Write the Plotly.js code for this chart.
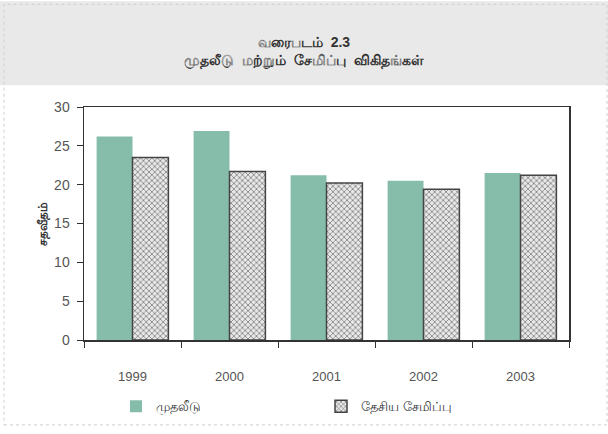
<!DOCTYPE html>
<html><head><meta charset="utf-8">
<script src="https://cdn.plot.ly/plotly-3.0.1.min.js"></script>
<style>body{margin:0;background:#fff}#c{width:608px;height:434px}</style>
</head><body><div id="c"></div>
<script>
const years = ['1999','2000','2001','2002','2003'];
const investment = [26.2, 26.9, 21.2, 20.5, 21.5];
const savings = [23.5, 21.7, 20.2, 19.4, 21.2];
const seriesNames = ['முதலீடு', 'தேசிய சேமிப்பு'];
const yTicks = [0, 5, 10, 15, 20, 25, 30];

const font = "'Liberation Sans', Arial, 'Noto Sans', sans-serif";
const data = [
  {type:'bar', x:years, y:investment, name:seriesNames[0],
   marker:{color:'#86bcaa', line:{width:0}}},
  {type:'bar', x:years, y:savings, name:seriesNames[1],
   marker:{color:'#e4e4e4', line:{color:'#444', width:1.5},
     pattern:{shape:'x', fgcolor:'#666', bgcolor:'#e8e8e8', size:4, solidity:0.3}}}
];
const pw = 485, ph = 236;
const layout = {
  width:608, height:434,
  margin:{l:84, r:39, t:107, b:91},
  paper_bgcolor:'#ffffff', plot_bgcolor:'#ffffff',
  font:{family:font, color:'#444', size:12},
  barmode:'group', bargap:0.26, bargroupgap:0,
  title:{text:'<b>வரைபடம்  2.3</b><br><b>முதலீடு  மற்றும்  சேமிப்பு  விகிதங்கள்</b>',
    font:{size:14, color:'#333'}, x:0.5, xanchor:'center', y:0.892, yanchor:'middle'},
  xaxis:{type:'category', showline:true, linecolor:'#333', linewidth:1.5, mirror:true,
    ticks:'outside', tickson:'boundaries', ticklen:6, tickcolor:'#333',
    ticklabelstandoff:24, tickfont:{size:13, color:'#555'}, showgrid:false},
  yaxis:{range:[0,30], tickvals:yTicks, showline:true, linecolor:'#333', linewidth:1.5, mirror:true,
    ticks:'outside', ticklen:6, tickcolor:'#333', showgrid:false, zeroline:false,
    ticklabelstandoff:4, tickfont:{size:14, color:'#555'},
    title:{text:'<b>சதவீதம்</b>', font:{size:12, color:'#333'}, standoff:4}},
  legend:{orientation:'h', x:0.066, xanchor:'left', y:-0.285, yanchor:'middle',
    font:{size:13, color:'#333'}, itemwidth:30, entrywidth:160},
  shapes:[
    {type:'rect', xref:'paper', yref:'paper', layer:'below',
     x0:-84/pw, x1:1+39/pw, y0:1+(107-85)/ph, y1:1+107/ph,
     fillcolor:'#e9e9e9', line:{width:0}},
    {type:'rect', xref:'paper', yref:'paper', layer:'below',
     x0:-80/pw, x1:1+38/pw, y0:-86/ph, y1:1+104/ph,
     fillcolor:'rgba(0,0,0,0)', line:{color:'#cfcfcf', width:1, dash:'dot'}}
  ],
  showlegend:true
};
Plotly.newPlot('c', data, layout, {displayModeBar:false, staticPlot:true});
</script></body></html>
